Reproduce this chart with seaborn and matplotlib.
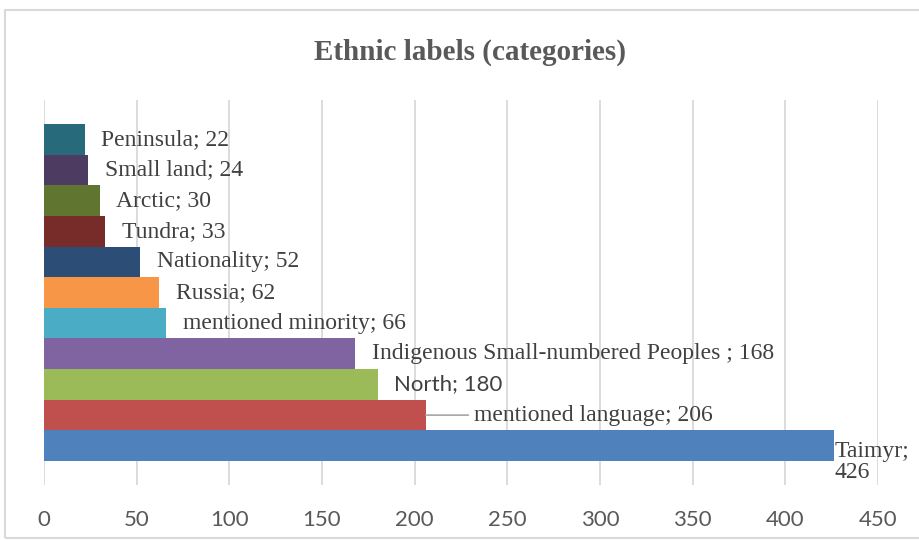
import matplotlib
matplotlib.use("Agg")
import matplotlib.pyplot as plt
import seaborn as sns
import pandas as pd
from matplotlib.patches import Rectangle

# Data (top to bottom as drawn)
categories = ["Peninsula", "Small land", "Arctic", "Tundra", "Nationality", "Russia",
              "mentioned minority", "Indigenous Small-numbered Peoples ", "North",
              "mentioned language", "Taimyr"]
values = [22, 24, 30, 33, 52, 62, 66, 168, 180, 206, 426]
colors = ["#276A7C", "#4D3B62", "#5F7530", "#772C2A", "#2C4D75", "#F79646",
          "#4BACC6", "#8064A2", "#9BBB59", "#C0504D", "#4F81BD"]
x_ticks = [0, 50, 100, 150, 200, 250, 300, 350, 400, 450]
title = "Ethnic labels (categories)"

df = pd.DataFrame({"category": categories, "value": values})

sns.set_theme(style="white")
plt.rcParams["font.family"] = ["Liberation Serif", "DejaVu Sans"]

fig = plt.figure(figsize=(9.19, 5.41), dpi=100)
ax = fig.add_axes([44 / 919, 1 - 485 / 541, (878 - 44) / 919, (485 - 100) / 541])

sns.barplot(data=df, x="value", y="category", hue="category", palette=colors,
            order=categories, hue_order=categories, orient="h", width=1.0,
            dodge=False, legend=False, saturation=1.0, linewidth=0, ax=ax)

ax.set_xlim(0, 450)
ax.set_ylim(len(categories) - 0.5 + 0.78, -0.5 - 0.78)
ax.set_xticks(x_ticks)
ax.set_xticklabels([str(t) for t in x_ticks], fontfamily="Lato", fontsize=16, color="#595959")
ax.tick_params(axis="x", length=0, pad=18)
ax.set_yticks([])
ax.set_xlabel("")
ax.set_ylabel("")
for s in ax.spines.values():
    s.set_visible(False)
ax.grid(axis="x", color="#D9D9D9", linewidth=1.3)
ax.set_axisbelow(True)

label_color = "#404040"
for i, (cat, val) in enumerate(zip(categories, values)):
    text = f"{cat}; {val}"
    if cat == "Taimyr":
        ax.annotate(f"{cat};\n{val}", xy=(val, i), xytext=(1, -12), textcoords="offset points",
                    ha="left", va="center", fontsize=17, color=label_color, linespacing=1.0)
    elif cat == "mentioned language":
        ax.annotate(text, xy=(val, i), xytext=(35, 0), textcoords="offset points",
                    ha="left", va="center", fontsize=17, color=label_color,
                    arrowprops=dict(arrowstyle="-", color="#A6A6A6", lw=1.2,
                                    shrinkA=2, shrinkB=0))
    elif cat == "North":
        ax.annotate(text, xy=(val, i), xytext=(12, 0), textcoords="offset points",
                    ha="left", va="center", fontsize=16, family="Lato", color=label_color)
    else:
        ax.annotate(text, xy=(val, i), xytext=(12, 0), textcoords="offset points",
                    ha="left", va="center", fontsize=17, color=label_color)

fig.text(470 / 919, 1 - 52 / 541, title, ha="center", va="center", fontsize=21,
         fontweight="bold", color="#595959", family="Liberation Serif")

fig.patches.append(Rectangle((5 / 919, 3 / 541), 1.0, 1 - 13 / 541, transform=fig.transFigure,
                             fill=False, edgecolor="#D9D9D9", linewidth=1.5))

fig.savefig("out.png", dpi=100)
